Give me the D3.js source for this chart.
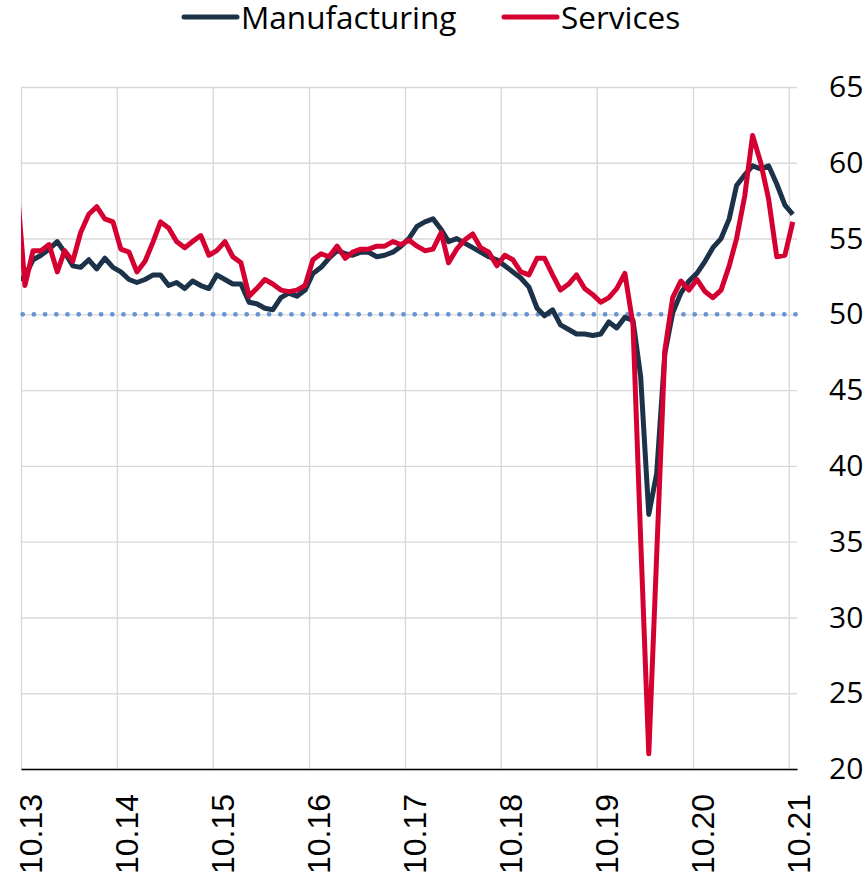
<!DOCTYPE html>
<html>
<head>
<meta charset="utf-8">
<script src="https://cdn.jsdelivr.net/npm/d3@7"></script>
<style>
  body { margin: 0; background: #fff; }
  svg { display: block; font-family: "Open Sans", sans-serif; }
</style>
</head>
<body>
<svg class="graph" width="868" height="875"></svg>
<script>
// monthly PMI readings, Sep 2013 .. Oct 2021 (first month sits just left of the plot and gets clipped)
var firstMonth = new Date(2013, 8, 16);

var manufacturing = [
  52.2,
  52.5, 53.6, 53.9, 54.3, 54.8, 54.1, 53.2, 53.1, 53.6, 53.0, 53.7, 53.1,
  52.8, 52.3, 52.1, 52.3, 52.6, 52.6, 51.9, 52.1, 51.7, 52.2, 51.9, 51.7,
  52.6, 52.3, 52.0, 52.0, 50.8, 50.7, 50.4, 50.3, 51.1, 51.4, 51.2, 51.6,
  52.7, 53.1, 53.7, 54.2, 54.0, 53.9, 54.1, 54.1, 53.8, 53.9, 54.1, 54.5,
  55.0, 55.8, 56.1, 56.3, 55.6, 54.8, 55.0, 54.7, 54.4, 54.1, 53.8, 53.6,
  53.2, 52.8, 52.4, 51.8, 50.4, 49.9, 50.3, 49.3, 49.0, 48.7, 48.7, 48.6,
  48.7, 49.5, 49.1, 49.8, 49.6, 45.9, 36.8, 39.5, 47.4, 50.1, 51.4, 52.2,
  52.7, 53.5, 54.4, 55.0, 56.3, 58.5, 59.2, 59.8, 59.6, 59.8, 58.6, 57.2,
  56.6
];

var services = [
  58.4,
  51.9, 54.2, 54.2, 54.6, 52.8, 54.2, 53.5, 55.4, 56.6, 57.1, 56.3, 56.1,
  54.3, 54.1, 52.8, 53.5, 54.8, 56.1, 55.7, 54.8, 54.4, 54.8, 55.2, 53.9,
  54.2, 54.8, 53.8, 53.4, 51.2, 51.7, 52.3, 52.0, 51.6, 51.5, 51.6, 51.9,
  53.6, 54.0, 53.8, 54.5, 53.7, 54.1, 54.3, 54.3, 54.5, 54.5, 54.8, 54.6,
  54.9, 54.5, 54.2, 54.3, 55.4, 53.4, 54.3, 54.9, 55.3, 54.4, 54.1, 53.2,
  53.9, 53.6, 52.8, 52.6, 53.7, 53.7, 52.6, 51.6, 52.0, 52.6, 51.7, 51.3,
  50.8, 51.1, 51.7, 52.7, 49.3, 35.2, 21.0, 34.1, 47.6, 51.1, 52.2, 51.6,
  52.3, 51.5, 51.1, 51.6, 53.2, 55.0, 57.8, 61.8, 60.0, 57.6, 53.8, 53.9,
  56.1
];

var tickYears = [2013, 2014, 2015, 2016, 2017, 2018, 2019, 2020, 2021];
var yTicks = [20, 25, 30, 35, 40, 45, 50, 55, 60, 65];
var threshold = 50;

var seriesList = [
  {name: "Manufacturing", values: manufacturing, color: "#1c3249"},
  {name: "Services", values: services, color: "#d50032"}
];

var svg = d3.select(".graph");
var margin = {top: 87, left: 21, right: 71, bottom: 106};
var width = +svg.attr("width") - margin.left - margin.right;
var height = +svg.attr("height") - margin.top - margin.bottom;

var dates = manufacturing.map(function (d, i) {
  return d3.timeMonth.offset(firstMonth, i);
});

var x = d3.scaleTime()
  .domain([new Date(2013, 9, 1), new Date(2021, 10, 1)])
  .range([0, width]);

var y = d3.scaleLinear()
  .domain([20, 65])
  .range([height, 0]);

var g = svg.append("g")
  .attr("transform", "translate(" + [margin.left, margin.top] + ")");

g.append("clipPath").attr("id", "plot")
  .append("rect").attr("width", width).attr("height", height + 10).attr("y", -10);

var tickDates = tickYears.map(function (yr) { return new Date(yr, 9, 1); });

// gridlines
g.append("g")
  .attr("class", "grid")
  .call(d3.axisLeft(y).tickValues(yTicks).tickSize(-width).tickFormat(""));

g.append("g")
  .attr("class", "grid")
  .call(d3.axisTop(x).tickValues(tickDates).tickSize(-height).tickFormat(""));

g.selectAll(".grid .domain").remove();
g.selectAll(".grid line").attr("stroke", "#d9d9d9").attr("stroke-width", 1.4);

// 50 line
g.append("line")
  .attr("x1", 0).attr("x2", width)
  .attr("y1", y(threshold)).attr("y2", y(threshold))
  .attr("stroke", "#6793d3")
  .attr("stroke-width", 4.8)
  .attr("stroke-linecap", "round")
  .attr("stroke-dasharray", "0 11.2")
  .attr("transform", "translate(1.7,0)");

// x axis
var xAxis = g.append("g")
  .attr("transform", "translate(0," + height + ")")
  .call(d3.axisBottom(x).tickValues(tickDates).tickSize(0).tickFormat(d3.timeFormat("%m.%y")));

xAxis.select(".domain").attr("stroke", "#000").attr("stroke-width", 1.5);
xAxis.selectAll("text")
  .attr("transform", "rotate(-90)")
  .attr("text-anchor", "end")
  .attr("x", -25)
  .attr("y", 20.5)
  .attr("dy", 0)
  .style("font-family", "'Liberation Sans', Arial, sans-serif")
  .style("font-size", "32px")
  .attr("fill", "#000");

// y axis on the right
var yAxis = g.append("g")
  .attr("transform", "translate(" + width + ",0)")
  .call(d3.axisRight(y).tickValues(yTicks).tickSize(0).tickPadding(32));

yAxis.select(".domain").remove();
yAxis.selectAll("text")
  .style("font-family", "'Open Sans', sans-serif")
  .style("font-size", "30px")
  .attr("fill", "#000");

// lines
var line = d3.line()
  .x(function (d, i) { return x(dates[i]); })
  .y(function (d) { return y(d); });

g.append("g")
  .attr("clip-path", "url(#plot)")
  .selectAll("path")
  .data(seriesList)
  .enter().append("path")
  .attr("d", function (d) { return line(d.values); })
  .attr("fill", "none")
  .attr("stroke", function (d) { return d.color; })
  .attr("stroke-width", 5)
  .attr("stroke-linejoin", "round");

// legend
var legendPos = [184, 504];
var legend = svg.append("g")
  .selectAll("g")
  .data(seriesList)
  .enter().append("g")
  .attr("transform", function (d, i) { return "translate(" + legendPos[i] + ",17)"; });

legend.append("line")
  .attr("x1", 0).attr("x2", 53)
  .attr("stroke", function (d) { return d.color; })
  .attr("stroke-width", 5)
  .attr("stroke-linecap", "round");

legend.append("text")
  .attr("x", 57)
  .attr("y", 11.5)
  .style("font-size", "31.5px")
  .attr("fill", "#000")
  .text(function (d) { return d.name; });
</script>
</body>
</html>
